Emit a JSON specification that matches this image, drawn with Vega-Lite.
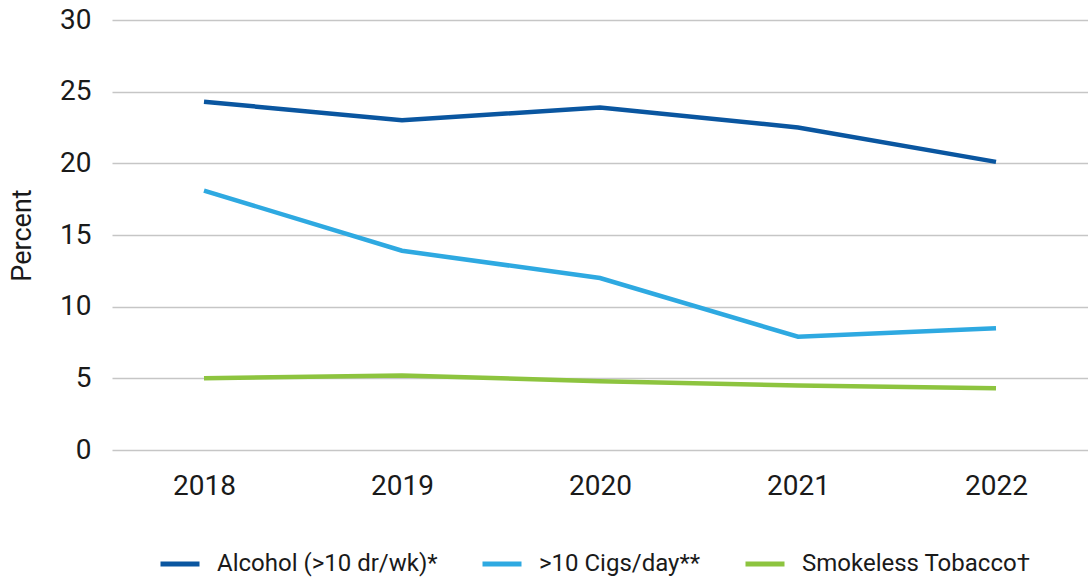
{
  "$schema": "https://vega.github.io/schema/vega-lite/v6.json",
  "autosize": "none",
  "width": 976,
  "height": 430,
  "padding": {"left": 112, "top": 20, "right": 0, "bottom": 127},
  "background": "white",
  "config": {
    "view": {"stroke": null},
    "font": "Roboto, sans-serif",
    "axis": {"labelFont": "Roboto, sans-serif", "titleFont": "Roboto, sans-serif"},
    "legend": {"labelFont": "Roboto, sans-serif"}
  },
  "data": {
    "values": [
      {"year": "2018", "series": "Alcohol (>10 dr/wk)*", "pct": 24.3},
      {"year": "2019", "series": "Alcohol (>10 dr/wk)*", "pct": 23.0},
      {"year": "2020", "series": "Alcohol (>10 dr/wk)*", "pct": 23.9},
      {"year": "2021", "series": "Alcohol (>10 dr/wk)*", "pct": 22.5},
      {"year": "2022", "series": "Alcohol (>10 dr/wk)*", "pct": 20.1},
      {"year": "2018", "series": ">10 Cigs/day**", "pct": 18.1},
      {"year": "2019", "series": ">10 Cigs/day**", "pct": 13.9},
      {"year": "2020", "series": ">10 Cigs/day**", "pct": 12.0},
      {"year": "2021", "series": ">10 Cigs/day**", "pct": 7.9},
      {"year": "2022", "series": ">10 Cigs/day**", "pct": 8.5},
      {"year": "2018", "series": "Smokeless Tobacco†", "pct": 5.0},
      {"year": "2019", "series": "Smokeless Tobacco†", "pct": 5.2},
      {"year": "2020", "series": "Smokeless Tobacco†", "pct": 4.8},
      {"year": "2021", "series": "Smokeless Tobacco†", "pct": 4.5},
      {"year": "2022", "series": "Smokeless Tobacco†", "pct": 4.3}
    ]
  },
  "mark": {"type": "line", "strokeWidth": 4.5, "strokeCap": "butt", "strokeJoin": "miter"},
  "encoding": {
    "x": {
      "field": "year",
      "type": "ordinal",
      "scale": {"type": "point", "padding": 0.4646},
      "axis": {
        "title": null,
        "labelAngle": 0,
        "labelFontSize": 28,
        "labelColor": "#1a1a1a",
        "labelPadding": 22,
        "ticks": false,
        "domain": false,
        "grid": false
      }
    },
    "y": {
      "field": "pct",
      "type": "quantitative",
      "scale": {"domain": [0, 30], "nice": false},
      "axis": {
        "title": "Percent",
        "titleFontSize": 27,
        "titleFontWeight": "normal",
        "titleColor": "#1a1a1a",
        "titlePadding": 23,
        "values": [0, 5, 10, 15, 20, 25, 30],
        "labelFontSize": 28,
        "labelColor": "#1a1a1a",
        "labelPadding": 21,
        "ticks": false,
        "domain": false,
        "grid": true,
        "gridColor": "#c6c6c6",
        "gridWidth": 1.5
      }
    },
    "color": {
      "field": "series",
      "type": "nominal",
      "scale": {
        "domain": ["Alcohol (>10 dr/wk)*", ">10 Cigs/day**", "Smokeless Tobacco†"],
        "range": ["#0a56a0", "#2ea9e1", "#8dc43f"]
      },
      "legend": {
        "title": null,
        "orient": "none",
        "legendX": 46,
        "legendY": 522,
        "direction": "horizontal",
        "symbolType": "stroke",
        "symbolSize": 1521,
        "symbolStrokeWidth": 5,
        "labelFontSize": 24,
        "labelColor": "#1a1a1a",
        "labelOffset": 15,
        "columnPadding": 34,
        "labelLimit": 400
      }
    }
  }
}
